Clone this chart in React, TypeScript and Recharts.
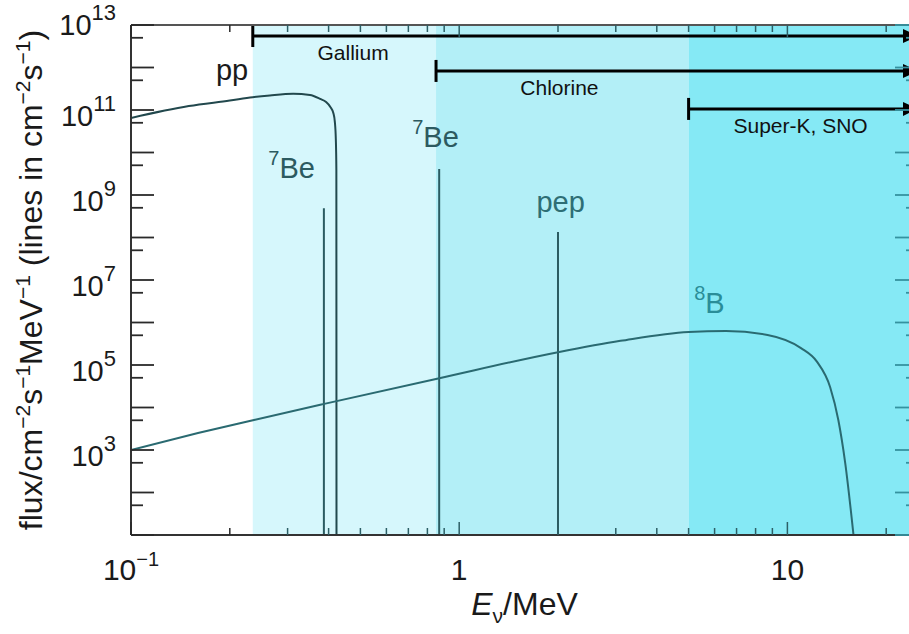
import React from "react";
import {
  ComposedChart,
  Line,
  XAxis,
  YAxis,
  ReferenceArea,
  ReferenceLine,
  ReferenceDot,
} from "recharts";

const FONT = '"Liberation Sans", Arial, Helvetica, sans-serif';

// pp continuum: energy (MeV) and flux
const ppE = [0.1, 0.15, 0.2, 0.235, 0.265, 0.312, 0.351, 0.377, 0.393, 0.405, 0.4135, 0.418, 0.4209, 0.4224, 0.4228];
const ppFlux = [6.5e10, 1.24e11, 1.67e11, 2.0e11, 2.2e11, 2.4e11, 2.25e11, 1.82e11, 1.54e11, 1.18e11, 8.5e10, 5.2e10, 1.97e10, 3.9e9, 10];

// 8B continuum
const b8E = [0.1, 0.16, 0.237, 0.385, 0.87, 2.0, 3.1, 5.0, 6.5, 8.7, 11.0, 12.3, 13.5, 14.3, 15.0, 15.9];
const b8Flux = [1.0e3, 2.5e3, 5.1e3, 1.2e4, 4.9e4, 2.0e5, 3.7e5, 6.0e5, 6.3e5, 5.1e5, 2.5e5, 1.2e5, 3.0e4, 5.0e3, 5.0e2, 10];

// mono-energetic lines (7Be, 7Be, pep)
const lineE = [0.387, 0.869, 2.0];
const lineFlux = [4.9e8, 4.1e9, 1.35e8];

// detector thresholds
const detectors = ["Gallium", "Chlorine", "Super-K, SNO"];
const detThreshold = [0.235, 0.85, 5.0];
const detRowFlux = [5.5e12, 8.3e11, 1.06e11];
const detLabelE = [0.475, 2.02, 10.97];
const shadeColors = ["#d6f7fc", "#b3eff7", "#85e9f5"];

// source labels
const annText = ["pp", "Be", "Be", "pep", "B"];
const annSup = ["", "7", "7", "", "8"];
const annE = [0.1815, 0.262, 0.719, 1.72, 5.2];
const annFlux = [5.1e11, 2.5e9, 1.35e10, 4e8, 1.67e6];
const annColor = ["#1a1a1a", "#2c5a60", "#2c5a60", "#2e6e75", "#2a8d98"];

// axes
const E_MIN = 0.1;
const E_MAX = 25;
const F_MIN = 10;
const F_MAX = 1e13;
const xTicks = [0.1, 0.2, 0.3, 0.4, 0.5, 0.6, 0.7, 0.8, 0.9, 1, 2, 3, 4, 5, 6, 7, 8, 9, 10, 20];
const xLabelValues = [0.1, 1, 10];
const xLabelBase = ["10", "1", "10"];
const xLabelSup = ["\u22121", "", ""];
const yTicks = [10, 50, 100, 500, 1e3, 5e3, 1e4, 5e4, 1e5, 5e5, 1e6, 5e6, 1e7, 5e7, 1e8, 5e8, 1e9, 5e9, 1e10, 5e10, 1e11, 5e11, 1e12, 5e12, 1e13];
const yLabelValues = [1e3, 1e5, 1e7, 1e9, 1e11, 1e13];
const yLabelSup = ["3", "5", "7", "9", "11", "13"];

const ppData = ppE.map((E, i) => ({ E, flux: ppFlux[i] }));
const b8Data = b8E.map((E, i) => ({ E, flux: b8Flux[i] }));

const isDecade = (v: number) => Math.abs(Math.log10(v) - Math.round(Math.log10(v))) < 1e-6;
const findIdx = (arr: number[], v: number) => arr.findIndex((t) => Math.abs(t / v - 1) < 1e-6);
const tickColor = (v: number) => (v < detThreshold[0] ? "#2a2a2a" : "#2d5f66");

function BottomTick(props: any) {
  const { x, y, payload } = props;
  const v = payload.value;
  const len = isDecade(v) ? 13 : 7;
  const i = findIdx(xLabelValues, v);
  return (
    <g>
      <line x1={x} x2={x} y1={y} y2={y - len} stroke={tickColor(v)} strokeWidth={1.5} />
      {i >= 0 && (
        <text x={x} y={y + 45} textAnchor="middle" fontSize={30} fontFamily={FONT} fill="#1a1a1a">
          {xLabelBase[i]}
          {xLabelSup[i] && (
            <tspan dy={-14} fontSize={20}>
              {xLabelSup[i]}
            </tspan>
          )}
        </text>
      )}
    </g>
  );
}

function TopTick(props: any) {
  const { x, y, payload } = props;
  const v = payload.value;
  const len = isDecade(v) ? 12 : 7;
  return <line x1={x} x2={x} y1={y} y2={y + len} stroke={tickColor(v)} strokeWidth={1.5} />;
}

function LeftTick(props: any) {
  const { x, y, payload } = props;
  const v = payload.value;
  const len = isDecade(v) ? 23 : 12;
  const i = findIdx(yLabelValues, v);
  const off = v >= F_MAX ? 10 : 16;
  return (
    <g>
      <line x1={x} x2={x + len} y1={y} y2={y} stroke="#2a2a2a" strokeWidth={1.8} />
      {i >= 0 && (
        <text x={x - 15} y={y + off} textAnchor="end" fontSize={29} fontFamily={FONT} fill="#1a1a1a">
          10
          <tspan dy={-15} fontSize={22}>
            {yLabelSup[i]}
          </tspan>
        </text>
      )}
    </g>
  );
}

function RightTick(props: any) {
  const { x, y, payload } = props;
  const len = isDecade(payload.value) ? 23 : 12;
  return <line x1={x} x2={x - len} y1={y} y2={y} stroke="#3592a0" strokeWidth={1.8} />;
}

function DetectorArrow(props: any) {
  const { x1, y1, x2 } = props;
  return (
    <g>
      <line x1={x1} y1={y1} x2={x2 - 12} y2={y1} stroke="#000" strokeWidth={3} />
      <line x1={x1} x2={x1} y1={y1 - 11} y2={y1 + 11} stroke="#000" strokeWidth={3} />
      <polygon points={`${x2 - 15},${y1 - 7} ${x2 - 15},${y1 + 7} ${x2},${y1}`} fill="#000" />
    </g>
  );
}

function XTitle(props: any) {
  const vb = props.viewBox;
  return (
    <text x={vb.x + vb.width / 2} y={vb.y + 80} textAnchor="middle" fontSize={32} fontFamily={FONT} fill="#1a1a1a">
      <tspan fontStyle="italic">E</tspan>
      <tspan dy={8} fontSize={21}>
        {"\u03bd"}
      </tspan>
      <tspan dy={-8}>/MeV</tspan>
    </text>
  );
}

function YTitle(props: any) {
  const vb = props.viewBox;
  const cx = vb.x + vb.width - 89;
  const cy = vb.y + vb.height / 2;
  return (
    <text
      x={cx}
      y={cy}
      transform={`rotate(-90, ${cx}, ${cy})`}
      textAnchor="middle"
      fontSize={32}
      fontFamily={FONT}
      fill="#1a1a1a"
    >
      <tspan>flux/cm</tspan>
      <tspan dy={-12} fontSize={21}>{"\u22122"}</tspan>
      <tspan dy={12}>s</tspan>
      <tspan dy={-12} fontSize={21}>{"\u22121"}</tspan>
      <tspan dy={12}>MeV</tspan>
      <tspan dy={-12} fontSize={21}>{"\u22121"}</tspan>
      <tspan dy={12}>{" (lines in cm"}</tspan>
      <tspan dy={-12} fontSize={21}>{"\u22122"}</tspan>
      <tspan dy={12}>s</tspan>
      <tspan dy={-12} fontSize={21}>{"\u22121"}</tspan>
      <tspan dy={12}>)</tspan>
    </text>
  );
}

export default function App() {
  return (
    <div style={{ position: "fixed", left: 0, top: 0, width: 909, height: 634, overflow: "hidden", background: "#fff" }}>
      <ComposedChart width={930} height={634} margin={{ top: 0, left: 0, right: 0, bottom: 0 }}>
        {detThreshold.map((t, i) => (
          <ReferenceArea
            key={`shade${i}`}
            xAxisId="b"
            yAxisId="l"
            x1={t}
            x2={detThreshold[i + 1] ?? E_MAX}
            y1={F_MIN}
            y2={F_MAX}
            fill={shadeColors[i]}
            fillOpacity={1}
            stroke="none"
          />
        ))}
        <XAxis
          xAxisId="b"
          dataKey="E"
          type="number"
          scale="log"
          domain={[E_MIN, E_MAX]}
          allowDataOverflow
          ticks={xTicks}
          interval={0}
          height={99}
          tickSize={0}
          tickMargin={0}
          tickLine={false}
          axisLine={{ stroke: "#333", strokeWidth: 2 }}
          tick={<BottomTick />}
          label={<XTitle />}
        />
        <XAxis
          xAxisId="t"
          orientation="top"
          dataKey="E"
          type="number"
          scale="log"
          domain={[E_MIN, E_MAX]}
          allowDataOverflow
          ticks={xTicks}
          interval={0}
          height={25}
          tickSize={0}
          tickMargin={0}
          tickLine={false}
          axisLine={{ stroke: "#555", strokeWidth: 2 }}
          tick={<TopTick />}
        />
        <YAxis
          yAxisId="l"
          type="number"
          scale="log"
          domain={[F_MIN, F_MAX]}
          allowDataOverflow
          ticks={yTicks}
          interval={0}
          width={131}
          tickSize={0}
          tickMargin={0}
          tickLine={false}
          axisLine={{ stroke: "#333", strokeWidth: 2 }}
          tick={<LeftTick />}
          label={<YTitle />}
        />
        <YAxis
          yAxisId="r"
          orientation="right"
          type="number"
          scale="log"
          domain={[F_MIN, F_MAX]}
          allowDataOverflow
          ticks={yTicks}
          interval={0}
          width={12}
          tickSize={0}
          tickMargin={0}
          tickLine={false}
          axisLine={{ stroke: "#333", strokeWidth: 2 }}
          tick={<RightTick />}
        />
        {lineE.map((e, i) => (
          <ReferenceLine
            key={`line${i}`}
            xAxisId="b"
            yAxisId="l"
            segment={[
              { x: e, y: F_MIN },
              { x: e, y: lineFlux[i] },
            ]}
            stroke="#2b5b61"
            strokeWidth={2}
          />
        ))}
        <Line
          xAxisId="b"
          yAxisId="l"
          data={ppData}
          dataKey="flux"
          type="monotone"
          stroke="#22484d"
          strokeWidth={2}
          dot={false}
          isAnimationActive={false}
        />
        <Line
          xAxisId="b"
          yAxisId="l"
          data={b8Data}
          dataKey="flux"
          type="monotone"
          stroke="#2a6a71"
          strokeWidth={2}
          dot={false}
          isAnimationActive={false}
        />
        {detThreshold.map((t, i) => (
          <ReferenceLine
            key={`det${i}`}
            xAxisId="b"
            yAxisId="l"
            segment={[
              { x: t, y: detRowFlux[i] },
              { x: E_MAX, y: detRowFlux[i] },
            ]}
            ifOverflow="visible"
            shape={(p: any) => <DetectorArrow {...p} />}
          />
        ))}
        {detectors.map((name, i) => (
          <ReferenceDot
            key={`detlab${i}`}
            xAxisId="b"
            yAxisId="l"
            x={detLabelE[i]}
            y={detRowFlux[i]}
            r={0}
            shape={(p: any) => (
              <text x={p.cx} y={p.cy + 24} textAnchor="middle" fontSize={21} fontFamily={FONT} fill="#111">
                {name}
              </text>
            )}
          />
        ))}
        {annText.map((txt, i) => (
          <ReferenceDot
            key={`ann${i}`}
            xAxisId="b"
            yAxisId="l"
            x={annE[i]}
            y={annFlux[i]}
            r={0}
            shape={(p: any) => (
              <text x={p.cx} y={p.cy} fontSize={29} fontFamily={FONT} fill={annColor[i]}>
                {annSup[i] && (
                  <tspan dy={-13} fontSize={20}>
                    {annSup[i]}
                  </tspan>
                )}
                <tspan dy={annSup[i] ? 13 : 0}>{txt}</tspan>
              </text>
            )}
          />
        ))}
      </ComposedChart>
    </div>
  );
}
